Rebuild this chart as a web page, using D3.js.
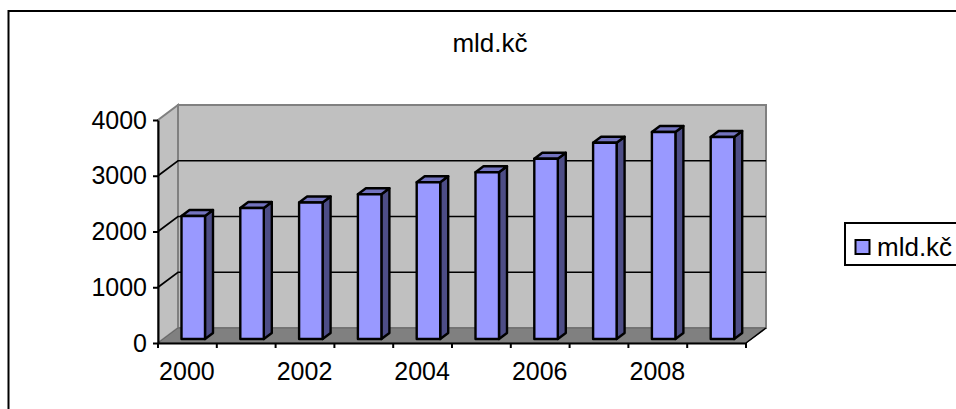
<!DOCTYPE html>
<html>
<head>
<meta charset="utf-8">
<script src="https://cdn.jsdelivr.net/npm/d3@7"></script>
<style>
  html, body { margin: 0; padding: 0; background: #fff; overflow: hidden; }
  svg { display: block; font-family: "Liberation Sans", Arial, sans-serif; }
</style>
</head>
<body>
<svg id="chart" width="956" height="409"></svg>
<script>
const title = "mld.kč";
const seriesName = "mld.kč";
const years = [2000, 2001, 2002, 2003, 2004, 2005, 2006, 2007, 2008, 2009];
const values = [2215, 2360, 2460, 2607, 2823, 3004, 3249, 3537, 3730, 3640];
const yTicks = [0, 1000, 2000, 3000, 4000];
const xLabels = [2000, 2002, 2004, 2006, 2008];

const depth = { x: 20, y: -15 }; // wall offset
const barDepth = { x: 8, y: -6 };
const fontSize = 25;
const lineW = 2;

const svg = d3.select("#chart");

const x = d3.scaleBand().domain(years).range([158, 746]);
const y = d3.scaleLinear().domain([0, 4000]).range([343, 120]);
// bars stand a bit behind the front edge of the floor
const barY = d3.scaleLinear().domain([0, 4000]).range([339, 117]);
const barX = (d) => x(d) + 23.5;
const barW = 23.5;

const poly = (pts) => pts.map((p) => p.join(",")).join(" ");
const [x0, x1] = x.range();
const yBase = y(0);
const yTop = y(4000);

// outer frame, only left and top are visible
svg.append("path")
  .attr("d", "M8.5,409V11H956")
  .attr("fill", "none")
  .attr("stroke", "#000")
  .attr("stroke-width", 2);

const walls = svg.append("g");

// back wall
walls.append("rect")
  .attr("x", x0 + depth.x)
  .attr("y", yTop + depth.y)
  .attr("width", x1 - x0)
  .attr("height", yBase - yTop)
  .attr("fill", "#c0c0c0")
  .attr("stroke", "#808080")
  .attr("stroke-width", lineW);

// side wall
walls.append("polygon")
  .attr("points", poly([[x0, yBase], [x0, yTop], [x0 + depth.x, yTop + depth.y], [x0 + depth.x, yBase + depth.y]]))
  .attr("fill", "#c0c0c0")
  .attr("stroke", "#808080")
  .attr("stroke-width", lineW);

// floor
walls.append("polygon")
  .attr("points", poly([[x0, yBase], [x0 + depth.x, yBase + depth.y], [x1 + depth.x, yBase + depth.y], [x1, yBase]]))
  .attr("fill", "#808080")
  .attr("stroke", "#666")
  .attr("stroke-width", 1);

// gridlines on the walls
walls.selectAll("path.grid")
  .data(yTicks.slice(1, -1))
  .enter()
  .append("path")
  .attr("class", "grid")
  .attr("d", (d) => `M${x0},${y(d)}L${x0 + depth.x},${y(d) + depth.y}H${x1 + depth.x}`)
  .attr("fill", "none")
  .attr("stroke", "#000")
  .attr("stroke-width", 1.7);

// floor right edge
walls.append("line")
  .attr("x1", x1)
  .attr("y1", yBase)
  .attr("x2", x1 + depth.x)
  .attr("y2", yBase + depth.y)
  .attr("stroke", "#000")
  .attr("stroke-width", 1.5);

// bars
const bars = svg.append("g")
  .selectAll("g")
  .data(years.map((year, i) => ({ year, value: values[i] })))
  .enter()
  .append("g")
  .attr("stroke", "#000")
  .attr("stroke-width", 2.4)
  .attr("stroke-linejoin", "round");

bars.append("polygon")
  .attr("fill", "#4d4d86")
  .attr("points", (d) => {
    const r = barX(d.year) + barW;
    return poly([[r, barY(d.value)], [r + barDepth.x, barY(d.value) + barDepth.y], [r + barDepth.x, barY(0) + barDepth.y], [r, barY(0)]]);
  });

bars.append("polygon")
  .attr("fill", "#7373bf")
  .attr("points", (d) => {
    const l = barX(d.year);
    const t = barY(d.value);
    return poly([[l, t], [l + barDepth.x, t + barDepth.y], [l + barW + barDepth.x, t + barDepth.y], [l + barW, t]]);
  });

bars.append("rect")
  .attr("fill", "#9999ff")
  .attr("x", (d) => barX(d.year))
  .attr("y", (d) => barY(d.value))
  .attr("width", barW)
  .attr("height", (d) => barY(0) - barY(d.value));

// axes
const yAxis = d3.axisLeft(y).tickValues(yTicks).tickFormat(d3.format("d")).tickSize(5).tickPadding(6).tickSizeOuter(0);
const yG = svg.append("g")
  .attr("transform", `translate(${x0},0)`)
  .call(yAxis);

const xAxis = d3.axisBottom(x)
  .tickSize(0)
  .tickPadding(19)
  .tickFormat((d) => (xLabels.includes(d) ? d : ""));
const xG = svg.append("g")
  .attr("transform", `translate(0,${yBase})`)
  .call(xAxis);

// tick marks sit on the category edges, not the centres
xG.selectAll("line.edge")
  .data([...years.map((d) => x(d)), x1])
  .enter()
  .append("line")
  .attr("class", "edge")
  .attr("x1", (d) => d)
  .attr("x2", (d) => d)
  .attr("y1", 0)
  .attr("y2", 5)
  .attr("stroke", "#000");

[yG, xG].forEach((g) => {
  g.selectAll("line").attr("stroke", "#000").attr("stroke-width", lineW);
  g.select(".domain").attr("stroke", "#000").attr("stroke-width", lineW);
  g.selectAll("text")
    .attr("fill", "#000")
    .style("font-family", '"Liberation Sans", Arial, sans-serif')
    .style("font-size", fontSize + "px");
});
xG.selectAll(".tick text").attr("dx", -0.5);

svg.append("text")
  .attr("x", 490)
  .attr("y", 52)
  .attr("text-anchor", "middle")
  .style("font-size", "26px")
  .text(title);

// legend runs off the right side
const legend = svg.append("g");
legend.append("path")
  .attr("d", "M956,223H845V265H956")
  .attr("fill", "#fff")
  .attr("stroke", "#000")
  .attr("stroke-width", lineW);
legend.append("rect")
  .attr("x", 855.5)
  .attr("y", 240)
  .attr("width", 14)
  .attr("height", 14)
  .attr("fill", "#9999ff")
  .attr("stroke", "#000")
  .attr("stroke-width", lineW);
legend.append("text")
  .attr("x", 877)
  .attr("y", 256)
  .style("font-size", "26px")
  .text(seriesName);
</script>
</body>
</html>
